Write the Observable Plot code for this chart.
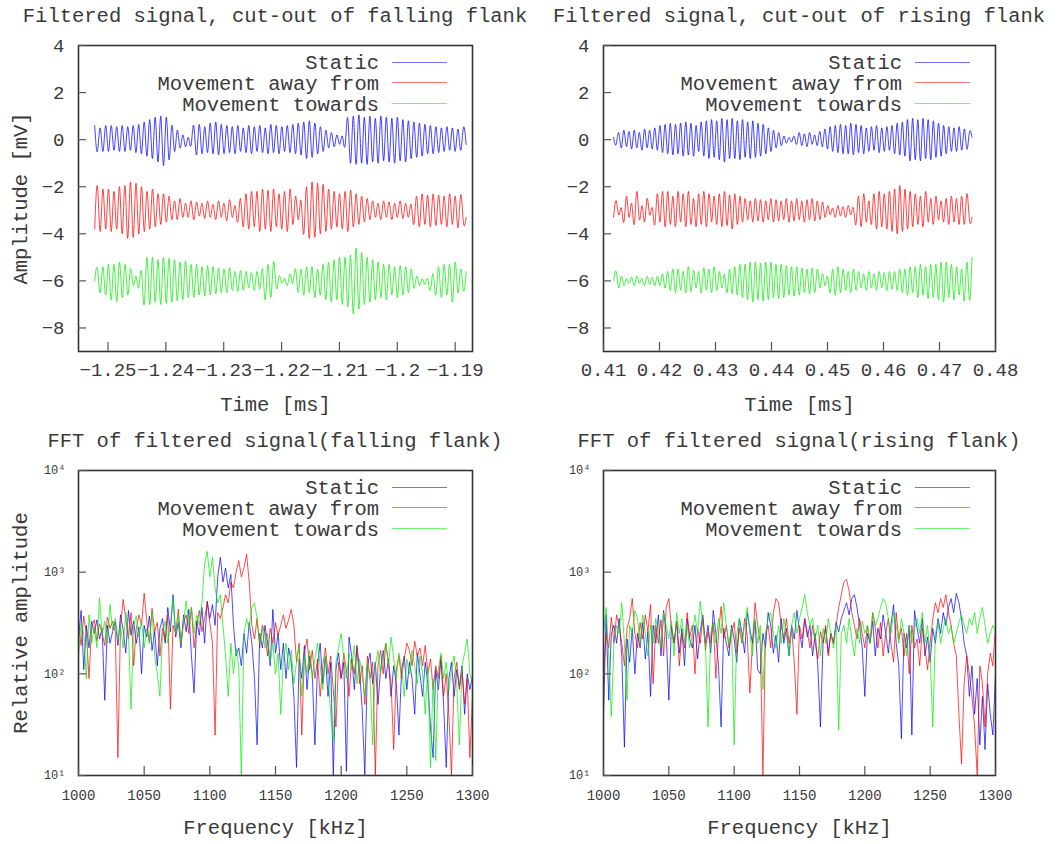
<!DOCTYPE html>
<html><head><meta charset="utf-8">
<script src="https://cdn.jsdelivr.net/npm/d3@7"></script>
<script src="https://cdn.jsdelivr.net/npm/@observablehq/plot@0.6"></script>
<style>
body{margin:0;background:#fff;}
#root{position:relative;width:1063px;height:844px;font-family:"Liberation Mono","DejaVu Sans Mono",monospace;color:#3a3a3a;overflow:hidden;}
.panel{position:absolute;}
.title{position:absolute;font-size:20.5px;white-space:pre;transform:translate(-50%,-50%);}
.leg{position:absolute;font-size:20.5px;white-space:pre;transform:translate(-100%,-50%);}
.legline{position:absolute;height:0;border-top:1px solid;}
</style></head><body><div id="root"></div>
<script>
// ---------- data ----------
const seriesNames = ["Static", "Movement away from", "Movement towards"];
const seriesColors = ["#0000ff", "#ff0000", "#00ee00"];

const panelTitles = [
  "Filtered signal, cut-out of falling flank",
  "Filtered signal, cut-out of rising flank",
  "FFT of filtered signal(falling flank)",
  "FFT of filtered signal(rising flank)"
];
const timeLabel = "Time [ms]";
const ampLabel = "Amplitude [mV]";
const freqLabel = "Frequency [kHz]";
const relLabel = "Relative amplitude";

const ampTicks = [-8, -6, -4, -2, 0, 2, 4];
const ampTickLabels = ["−8", "−6", "−4", "−2", "0", "2", "4"];
const fallTimeTicks = [-1.25, -1.24, -1.23, -1.22, -1.21, -1.2, -1.19];
const fallTimeTickLabels = ["−1.25", "−1.24", "−1.23", "−1.22", "−1.21", "−1.2", "−1.19"];
const riseTimeTicks = [0.41, 0.42, 0.43, 0.44, 0.45, 0.46, 0.47, 0.48];
const riseTimeTickLabels = ["0.41", "0.42", "0.43", "0.44", "0.45", "0.46", "0.47", "0.48"];
const freqTicks = [1000, 1050, 1100, 1150, 1200, 1250, 1300];
const freqTickLabels = ["1000", "1050", "1100", "1150", "1200", "1250", "1300"];
const relTicks = [10, 100, 1000, 10000];
const relTickLabels = ["10¹", "10²", "10³", "10⁴"];

// time windows of the cut-outs (ms): first and last sample
const fallStart = -1.2523, fallEnd = -1.1881;
const riseStart = 0.4118, riseEnd = 0.4758;

// successive extrema (mV) of each oscillating signal, falling flank
const fallStatic = [
0.6,-0.5, 0.5,-0.5, 0.6,-0.5, 0.6,-0.45, 0.55,-0.5, 0.6,-0.5, 0.55,-0.45, 0.6,-0.55,
0.65,-0.6, 0.75,-0.7, 0.85,-0.8, 0.95,-0.95, 1.0,-1.1, 0.95,-0.85,
0.6,-0.5, 0.4,-0.35, 0.2,-0.3, 0.1,-0.25,
0.6,-0.65, 0.65,-0.6, 0.55,-0.55, 0.7,-0.6, 0.75,-0.65,
0.65,-0.6, 0.6,-0.55, 0.55,-0.6, 0.6,-0.5, 0.5,-0.55, 0.6,-0.6, 0.55,-0.5, 0.6,-0.55, 0.5,-0.6, 0.65,-0.55,
0.6,-0.6, 0.55,-0.5, 0.6,-0.55, 0.65,-0.6, 0.7,-0.65, 0.75,-0.8, 0.8,-0.75, 0.7,-0.6, 0.55,-0.5, 0.4,-0.35, 0.3,-0.3,
0.2,-0.2, 0.15,-0.25,
0.9,-1.0, 1.0,-1.05, 1.05,-1.0, 0.95,-1.05, 1.0,-0.95, 0.9,-1.0, 1.0,-0.9, 0.95,-0.95, 0.9,-1.0, 0.95,-0.9, 0.85,-0.95,
0.8,-0.8, 0.75,-0.75, 0.7,-0.7, 0.65,-0.6, 0.6,-0.6, 0.55,-0.55, 0.5,-0.5, 0.55,-0.45, 0.5,-0.5, 0.45,-0.45, 0.5,-0.2
];
const fallAway = [
-3.8,-2.0, -3.9,-2.1, -3.8,-2.1, -3.9,-2.2, -3.8,-2.0, -4.0,-1.95,
-4.2,-1.8, -4.15,-1.85, -4.0,-2.0, -3.9,-2.2, -3.8,-2.1,
-3.7,-2.3, -3.6,-2.3, -3.5,-2.4, -3.4,-2.6, -3.4,-2.5,
-3.3,-2.7, -3.3,-2.6, -3.4,-2.65, -3.25,-2.7, -3.35,-2.6, -3.3,-2.75, -3.4,-2.6, -3.3,-2.7, -3.45,-2.55, -3.3,-2.8, -3.5,-2.5,
-3.7,-2.3, -3.8,-2.2, -3.7,-2.2, -3.9,-2.1, -3.8,-2.15, -3.9,-2.1, -3.7,-2.3, -3.8,-2.2, -3.9,-2.1, -3.6,-2.4, -3.4,-2.6,
-4.0,-2.0, -4.2,-1.8, -4.15,-1.85, -4.0,-1.9, -3.9,-2.1,
-3.8,-2.2, -3.7,-2.3, -3.8,-2.2, -3.9,-2.15, -3.7,-2.3, -3.6,-2.4, -3.5,-2.5,
-3.4,-2.6, -3.3,-2.7, -3.4,-2.6, -3.3,-2.65, -3.4,-2.7, -3.3,-2.6, -3.35,-2.7, -3.3,-2.75,
-3.6,-2.4, -3.7,-2.3, -3.6,-2.35, -3.7,-2.3, -3.65,-2.35, -3.6,-2.4, -3.7,-2.3, -3.6,-2.4, -3.75,-2.35, -3.5,-3.3
];
const fallTowards = [
-6.0,-5.5, -6.5,-5.4, -6.6,-5.3, -6.8,-5.3, -6.9,-5.2, -6.7,-5.3, -6.6,-5.5,
-6.2,-5.8, -6.3,-5.6,
-7.0,-5.0, -7.0,-5.0, -6.9,-5.1, -7.0,-5.0, -6.95,-5.05, -6.9,-5.1, -6.85,-5.2, -6.8,-5.15, -6.7,-5.3,
-6.7,-5.3, -6.6,-5.4, -6.65,-5.35, -6.6,-5.4, -6.55,-5.45, -6.5,-5.5, -6.5,-5.45, -6.4,-5.6, -6.45,-5.55, -6.4,-5.6,
-6.3,-5.65, -6.4,-5.6, -6.35,-5.5, -6.8,-5.3, -6.7,-5.2, -6.3,-5.8,
-6.1,-5.9, -6.2,-5.7, -6.1,-5.5,
-6.5,-5.5, -6.6,-5.4, -6.5,-5.4, -6.7,-5.5, -6.6,-5.3, -6.8,-5.2, -6.9,-5.1, -6.8,-5.0,
-7.0,-5.0, -7.1,-4.9, -7.4,-4.6, -7.2,-4.8, -7.0,-5.0, -6.9,-5.1,
-6.8,-5.2, -6.7,-5.3, -6.8,-5.3, -6.6,-5.4, -6.7,-5.35, -6.6,-5.4, -6.5,-5.5, -6.3,-5.8,
-6.2,-5.9, -6.15,-5.9, -6.4,-5.7,
-6.6,-5.4, -6.7,-5.3, -6.6,-5.3, -6.9,-5.2, -6.5,-5.5, -6.4,-5.6
];

// successive extrema (mV), rising flank
const riseStatic = [
0.1,-0.2, 0.3,-0.35, 0.4,-0.3, 0.35,-0.4, 0.4,-0.35, 0.3,-0.45, 0.45,-0.35, 0.4,-0.4, 0.5,-0.45,
0.6,-0.55, 0.65,-0.6, 0.7,-0.65, 0.65,-0.6, 0.7,-0.7, 0.75,-0.65, 0.7,-0.7, 0.6,-0.5,
0.75,-0.7, 0.8,-0.8, 0.85,-0.75, 0.8,-0.85, 0.9,-0.95, 0.85,-0.8, 0.9,-0.8, 0.8,-0.85, 0.85,-0.75, 0.75,-0.8, 0.8,-0.75, 0.7,-0.7, 0.65,-0.6,
0.5,-0.5, 0.4,-0.35, 0.3,-0.25, 0.15,-0.15, 0.1,-0.1,
0.15,-0.2, 0.3,-0.25, 0.25,-0.3, 0.3,-0.2, 0.2,-0.25, 0.35,-0.3,
0.45,-0.4, 0.55,-0.5, 0.6,-0.55, 0.65,-0.6, 0.6,-0.6, 0.7,-0.65, 0.65,-0.55, 0.6,-0.6, 0.5,-0.5, 0.55,-0.45, 0.6,-0.55, 0.5,-0.5, 0.55,-0.45, 0.6,-0.6, 0.7,-0.65, 0.75,-0.7,
0.85,-0.9, 0.9,-0.85, 0.85,-0.9, 0.9,-0.8, 0.85,-0.85, 0.8,-0.75, 0.7,-0.7,
0.6,-0.6, 0.55,-0.5, 0.5,-0.5, 0.55,-0.45, 0.45,-0.4, 0.3,0.1
];
const riseAway = [
-3.3,-2.6, -3.2,-2.9, -3.5,-2.4, -3.3,-2.7, -3.6,-2.2, -3.4,-2.8, -3.5,-2.5, -3.2,-2.9, -3.6,-2.3, -3.5,-2.2,
-3.7,-2.2, -3.6,-2.4, -3.7,-2.2, -3.5,-2.3, -3.7,-2.2, -3.6,-2.5, -3.7,-2.3, -3.6,-2.2, -3.7,-2.3, -3.5,-2.4, -3.6,-2.3, -3.7,-2.2, -3.65,-2.35, -3.8,-2.3, -3.6,-2.4,
-3.5,-2.5, -3.4,-2.6, -3.5,-2.5, -3.45,-2.55, -3.5,-2.6, -3.4,-2.5, -3.5,-2.55, -3.45,-2.6, -3.4,-2.5, -3.5,-2.6, -3.45,-2.5, -3.4,-2.6, -3.5,-2.55, -3.4,-2.5, -3.45,-2.6, -3.4,-2.65, -3.3,-2.8,
-3.2,-2.9, -3.3,-2.8, -3.25,-2.85, -3.3,-2.8, -3.2,-2.9,
-3.6,-2.4, -3.7,-2.3, -3.5,-2.6, -3.6,-2.3, -3.8,-2.2, -3.7,-2.3, -3.8,-2.2, -3.9,-2.1,
-4.0,-1.95, -3.9,-2.1, -3.8,-2.2,
-3.7,-2.3, -3.6,-2.4, -3.7,-2.2, -3.5,-2.5, -3.6,-2.4, -3.4,-2.6, -3.5,-2.5, -3.6,-2.4, -3.5,-2.5, -3.6,-2.4, -3.6,-2.3, -3.4,-3.3
];
const riseTowards = [
-6.0,-5.6, -6.3,-5.8, -6.2,-5.9, -6.1,-5.85, -6.2,-5.8, -6.1,-5.9, -6.2,-5.8, -6.15,-5.85, -6.2,-5.8, -6.2,-5.7, -6.3,-5.6,
-6.4,-5.5, -6.5,-5.5, -6.4,-5.6, -6.5,-5.4, -6.45,-5.55, -6.3,-5.6, -6.5,-5.45, -6.4,-5.5, -6.5,-5.4, -6.4,-5.6, -6.3,-5.7, -6.5,-5.5, -6.55,-5.4, -6.6,-5.3, -6.7,-5.3,
-6.8,-5.2, -6.9,-5.2, -6.8,-5.25, -6.85,-5.2, -6.8,-5.2, -6.7,-5.3, -6.75,-5.3, -6.7,-5.35, -6.6,-5.4, -6.65,-5.4, -6.6,-5.45, -6.5,-5.5, -6.55,-5.45, -6.5,-5.5,
-6.3,-5.7, -6.2,-5.8, -6.5,-5.5, -6.6,-5.4, -6.5,-5.5, -6.4,-5.6, -6.5,-5.5, -6.4,-5.6, -6.3,-5.7, -6.4,-5.6, -6.3,-5.7, -6.4,-5.6, -6.3,-5.65, -6.4,-5.6, -6.35,-5.6, -6.4,-5.5,
-6.5,-5.5, -6.6,-5.4, -6.5,-5.4, -6.7,-5.3, -6.6,-5.4, -6.75,-5.3, -6.7,-5.3, -6.8,-5.2, -6.9,-5.2, -6.7,-5.3, -6.8,-5.4, -6.6,-5.5, -6.85,-5.2, -6.8,-5.0
];

// FFT spectra: one value every 2 kHz from 1000 to 1300 kHz
const fftStart = 1000, fftStep = 2;
const fftFallStatic = [
230,420,110,300,180,330,250,340,220,280, 55,300,200,260,330,190,380,270,160,420,
240,330,200,290,100,300,230,370,170,260, 120,280,350,200,450,260,600,230,320,180,
380,260,430,150,65,330,240,450,200,520, 350,480,300,900,1400,800,1100,700,950,300,
150,180,120,250,160,320,200,90,20,250, 180,300,200,120,430,160,250,110,200,90,
180,130,60,12,140,90,190,70,150,100, 20,120,200,80,150,60,130,10,110,160,
90,130,11,230,150,70,190,110,45,10, 120,160,80,130,50,110,170,90,140,60,
120,80,25,110,150,70,130,90,40,160, 100,60,130,80,30,15,110,70,140,50,
12,90,130,60,110,75,120,40,100,70, 95
];
const fftFallAway = [
300,190,370,250,90,280,340,210,310,250, 190,360,280,330,260,15,300,540,350,220,
400,120,280,380,300,620,330,200,440,260, 320,150,280,210,380,45,300,250,430,200,
320,380,250,450,180,300,420,260,350,500, 320,200,25,400,350,450,600,500,800,700,
1000,1300,900,1100,1500,800,300,220,350,180, 300,250,150,280,200,320,240,300,380,280,
340,430,300,130,200,25,160,220,110,170, 90,140,60,120,180,100,150,70,30,130,
90,160,110,60,140,100,180,80,120,50, 150,90,130,10,120,170,100,200,130,80,
18,110,150,90,140,200,170,120,210,150, 180,120,190,100,140,70,120,90,150,60,
100,40,10,90,130,70,110,50,90,15, 60
];
const fftFallTowards = [
150,320,250,90,380,200,290,180,560,240, 330,200,480,270,350,220,300,180,400,260,
45,300,370,230,330,180,280,200,420,150, 100,60,250,330,200,300,560,250,380,200,
330,520,300,450,250,380,300,500,1200,1600, 900,1400,700,500,600,300,150,60,200,100,
180,120,10,250,350,280,450,500,350,200, 280,180,250,130,200,100,160,40,140,200,
110,170,80,130,190,60,150,100,170,90, 140,200,120,70,150,100,40,22,130,180,
250,140,90,160,110,190,80,140,100,60, 130,90,20,120,170,100,150,200,120,230,
140,90,160,110,60,140,100,170,120,80, 150,100,40,120,12,90,14,110,160,90,
130,70,110,150,80,20,120,160,220,100, 80
];
const fftRiseStatic = [
40,380,55,250,300,200,350,150,19,220, 130,280,100,250,180,320,140,260,60,300,
200,380,150,420,250,55,300,200,330,160, 280,120,350,220,180,300,140,260,380,200,
300,160,420,250,120,30,280,200,150,300, 220,130,350,250,160,400,280,200,330,110,
100,250,180,400,300,160,240,130,350,200, 280,150,300,220,420,260,180,350,230,300,
150,250,120,30,200,280,160,250,200,320, 260,350,420,500,380,550,600,450,300,180,
60,250,200,330,150,280,220,380,250,160, 300,480,200,120,23,250,180,300,25,420,
280,200,350,150,230,130,280,200,350,250, 400,300,450,550,400,620,500,350,200,150,
60,120,40,90,20,60,18,80,40,25, 100
];
const fftRiseAway = [
100,250,180,360,200,380,300,200,120,280, 350,550,250,180,320,220,380,260,480,80,
300,200,340,150,450,550,280,200,330,120, 250,180,400,230,300,100,280,200,350,170,
260,200,320,90,250,460,220,300,180,250, 320,160,280,200,350,240,65,200,500,300,
200,10,250,300,180,400,550,500,300,220, 350,200,280,130,40,300,220,350,260,180,
300,200,140,260,200,300,150,250,200,300, 450,600,800,850,650,400,300,220,350,250,
180,300,200,400,280,180,320,150,250,350, 200,130,400,220,280,150,250,100,300,180,
220,120,280,180,110,200,350,500,400,550, 450,600,400,300,200,150,40,13,80,150,
100,60,30,10,120,80,30,100,160,120, 300
];
const fftRiseTowards = [
250,450,150,38,200,300,250,500,200,55, 300,250,420,350,200,380,250,150,300,200,
350,260,180,400,300,220,330,150,400,250, 350,200,300,180,250,380,250,520,300,200,
30,250,320,200,350,250,500,300,200,280, 20,250,350,200,300,450,250,150,350,200,
300,70,250,350,400,250,180,300,200,350, 250,150,300,400,250,350,450,600,400,300,
350,220,300,150,280,200,350,250,180,300, 28,250,300,200,350,220,150,280,200,330,
250,300,200,400,300,350,450,550,500,350, 250,400,300,200,350,250,150,300,200,280,
350,250,400,200,300,150,30,250,320,200, 280,350,250,300,200,250,320,380,300,250,
350,300,400,250,350,450,300,200,250,300, 260
];

// ---------- layout ----------
const FONT = '"Liberation Mono","DejaVu Sans Mono",monospace';
const TEXT = "#3a3a3a";
const root = document.getElementById("root");

function el(cls, css, text) {
  const d = document.createElement("div");
  d.className = cls;
  Object.assign(d.style, css);
  if (text != null) d.textContent = text;
  root.appendChild(d);
  return d;
}

function lineRows(seriesList, xOf) {
  const rows = [];
  seriesList.forEach((vals, k) => vals.forEach((v, i) => rows.push({x: xOf(i, vals.length), y: v, s: k})));
  return rows;
}

function panel(o) {
  const fw = o.width - o.ml - o.mr, fh = o.height - o.mt - o.mb;
  const xMap = new Map(o.xTicks.map((t, i) => [t, o.xTickLabels[i]]));
  const yMap = new Map(o.yTicks.map((t, i) => [t, o.yTickLabels[i]]));
  const marks = [];
  seriesNames.forEach((name, k) => {
    marks.push(Plot.line(o.rows.filter(r => r.s === k), {
      x: "x", y: "y", stroke: seriesColors[k], strokeWidth: 1, strokeOpacity: o.opacity,
      curve: o.curve, clip: true
    }));
  });
  marks.push(
    Plot.frame({stroke: "#333", strokeWidth: 1.6}),
    Plot.tickX(o.xTicks, {x: d => d, insetTop: fh - 9, stroke: "#555", strokeWidth: 1.2}),
    Plot.tickY(o.yTicks, {y: d => d, insetRight: fw - 8, stroke: "#555", strokeWidth: 1.2}),
    Plot.axisX(o.xTicks, {tickSize: 0, tickPadding: o.xPad, fontSize: o.xFont, fill: TEXT,
      tickFormat: d => xMap.get(d), label: null}),
    Plot.axisY(o.yTicks, {tickSize: 0, tickPadding: o.yPad, fontSize: o.yFont, fill: TEXT,
      tickFormat: d => yMap.get(d), label: null}),
    Plot.text([o.xLabel], {frameAnchor: "bottom", dy: o.xLabelDy, fontSize: 20.5, fill: TEXT,
      lineAnchor: "middle", textAnchor: "middle"})
  );
  if (o.yLabel) marks.push(Plot.text([o.yLabel], {frameAnchor: "left", dx: -58, rotate: -90,
    fontSize: 20.5, fill: TEXT, textAnchor: "middle", lineAnchor: "middle"}));
  const svg = Plot.plot({
    width: o.width, height: o.height,
    marginLeft: o.ml, marginRight: o.mr, marginTop: o.mt, marginBottom: o.mb,
    style: {fontFamily: FONT, background: "transparent", overflow: "visible"},
    x: {domain: o.xDomain, axis: null},
    y: {domain: o.yDomain, type: o.yType || "linear", axis: null},
    marks
  });
  const wrap = el("panel", {left: o.left + "px", top: o.top + "px"});
  wrap.appendChild(svg);
  // title
  el("title", {left: (o.left + o.ml + fw / 2) + "px", top: o.titleY + "px"}, o.title);
  // legend (inside top right)
  seriesNames.forEach((name, k) => {
    const y = o.top + o.mt + o.legY0 + k * 20.8;
    el("leg", {left: (o.left + o.ml + fw - o.legRight) + "px", top: y + "px"}, name);
    el("legline", {left: (o.left + o.ml + fw - o.legRight + 13) + "px", top: (y - 1.5) + "px",
      width: "55px", borderTopColor: seriesColors[k], opacity: 0.55});
  });
}

const evenly = (a, b) => (i, n) => a + (b - a) * i / (n - 1);
const fftX = (i) => fftStart + fftStep * i;

panel({
  left: 0, top: 30, width: 530, height: 390, ml: 78, mr: 58, mt: 15, mb: 69,
  rows: lineRows([fallStatic, fallAway, fallTowards], evenly(fallStart, fallEnd)),
  curve: "natural", opacity: 0.75,
  xDomain: [-1.2551, -1.187], yDomain: [-9, 4],
  xTicks: fallTimeTicks, xTickLabels: fallTimeTickLabels, yTicks: ampTicks, yTickLabels: ampTickLabels,
  xPad: 11, xFont: 19, yPad: 14, yFont: 19,
  xLabel: timeLabel, xLabelDy: 53, yLabel: ampLabel,
  title: panelTitles[0], titleY: 16, legY0: 18, legRight: 93
});
panel({
  left: 530, top: 30, width: 533, height: 390, ml: 73, mr: 68, mt: 15, mb: 69,
  rows: lineRows([riseStatic, riseAway, riseTowards], evenly(riseStart, riseEnd)),
  curve: "natural", opacity: 0.75,
  xDomain: [0.41, 0.48], yDomain: [-9, 4],
  xTicks: riseTimeTicks, xTickLabels: riseTimeTickLabels, yTicks: ampTicks, yTickLabels: ampTickLabels,
  xPad: 11, xFont: 19, yPad: 14, yFont: 19,
  xLabel: timeLabel, xLabelDy: 53, yLabel: null,
  title: panelTitles[1], titleY: 16, legY0: 18, legRight: 93
});
panel({
  left: 0, top: 455, width: 530, height: 389, ml: 78, mr: 58, mt: 15, mb: 69,
  rows: lineRows([fftFallStatic, fftFallAway, fftFallTowards], fftX),
  curve: "linear", opacity: 0.7,
  xDomain: [1000, 1300], yDomain: [10, 10000], yType: "log",
  xTicks: freqTicks, xTickLabels: freqTickLabels, yTicks: relTicks, yTickLabels: relTickLabels,
  xPad: 15, xFont: 14, yPad: 13, yFont: 12,
  xLabel: freqLabel, xLabelDy: 52, yLabel: relLabel,
  title: panelTitles[2], titleY: 441, legY0: 18, legRight: 93
});
panel({
  left: 530, top: 455, width: 533, height: 389, ml: 73, mr: 68, mt: 15, mb: 69,
  rows: lineRows([fftRiseStatic, fftRiseAway, fftRiseTowards], fftX),
  curve: "linear", opacity: 0.7,
  xDomain: [1000, 1300], yDomain: [10, 10000], yType: "log",
  xTicks: freqTicks, xTickLabels: freqTickLabels, yTicks: relTicks, yTickLabels: relTickLabels,
  xPad: 15, xFont: 14, yPad: 13, yFont: 12,
  xLabel: freqLabel, xLabelDy: 52, yLabel: null,
  title: panelTitles[3], titleY: 441, legY0: 18, legRight: 93
});
</script></body></html>
